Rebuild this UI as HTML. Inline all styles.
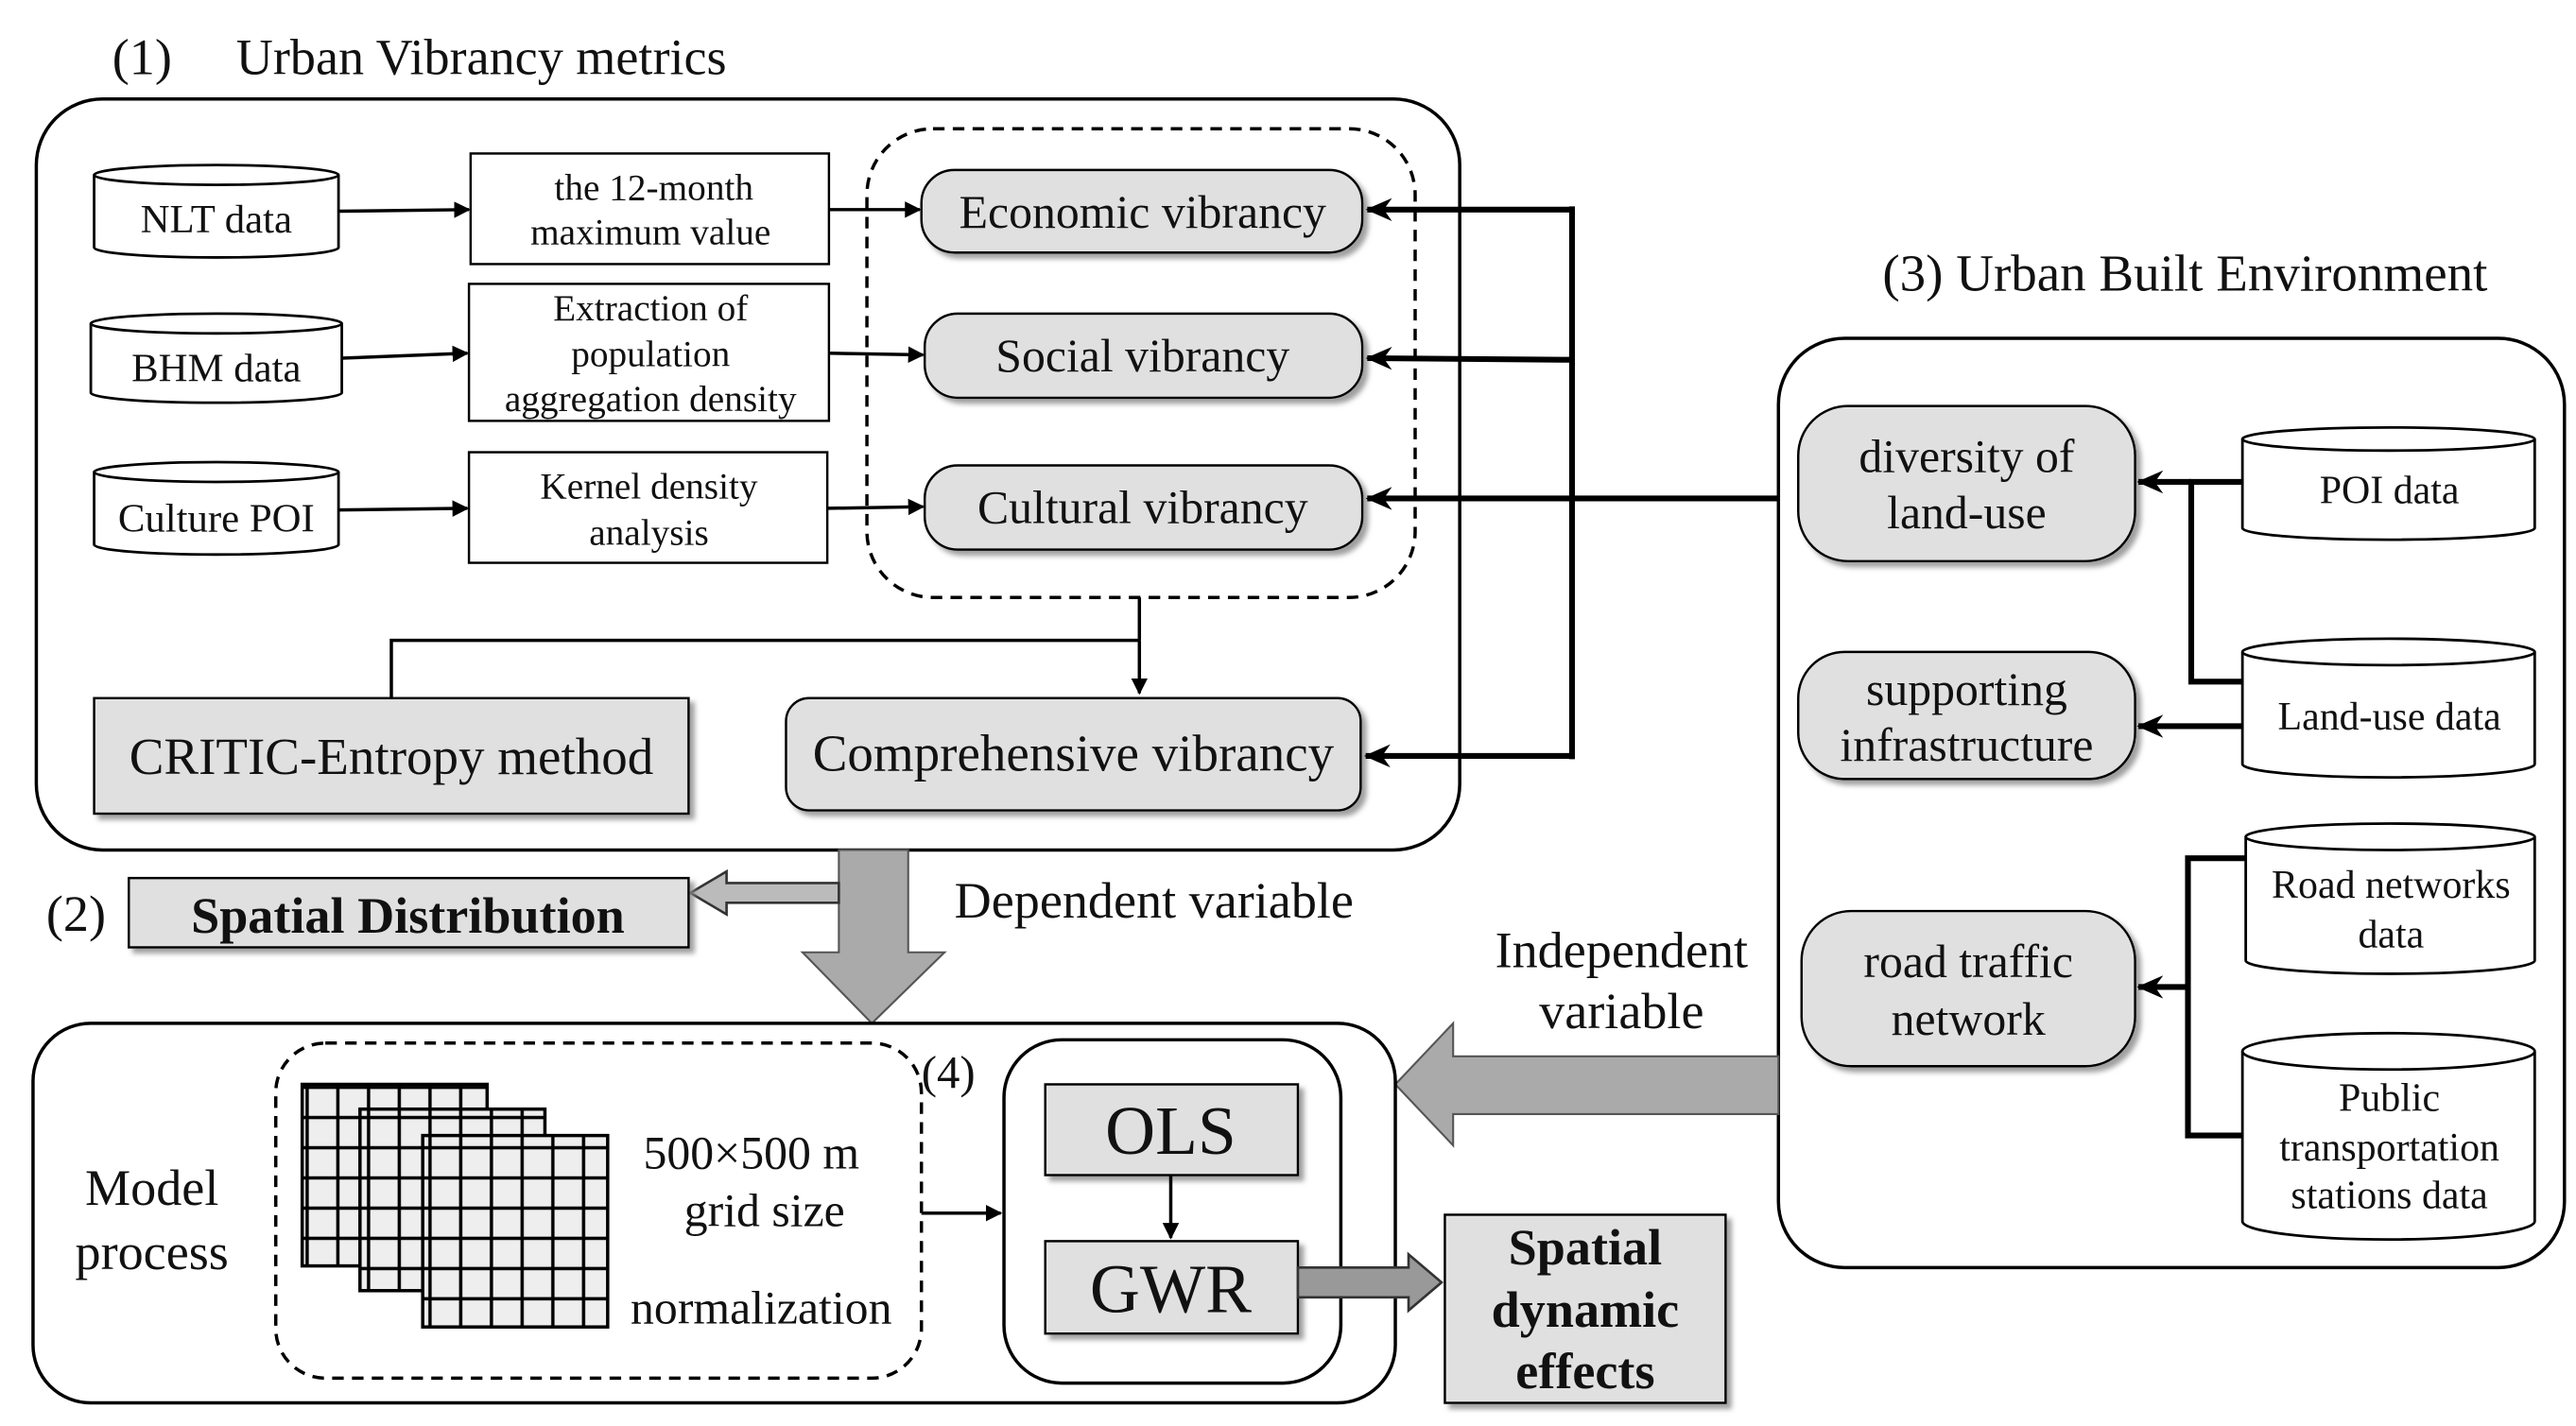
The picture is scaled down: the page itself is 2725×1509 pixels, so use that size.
<!DOCTYPE html>
<html><head><meta charset="utf-8"><style>
html,body{margin:0;padding:0;background:#fff;}
svg{display:block;}
text{font-family:"Liberation Serif",serif;fill:#111;}
</style></head><body>
<svg width="2725" height="1509" viewBox="0 0 1560 864" preserveAspectRatio="none" xmlns="http://www.w3.org/2000/svg">
<defs>
<marker id="ah" markerWidth="10" markerHeight="10" refX="9" refY="5" orient="auto" markerUnits="userSpaceOnUse"><path d="M0,0 L10,5 L0,10 z" fill="#000"/></marker>
<marker id="ahb" markerWidth="16" markerHeight="14" refX="15" refY="7" orient="auto" markerUnits="userSpaceOnUse"><path d="M0,0 L16,7 L0,14 L5,7 z" fill="#000"/></marker>
<filter id="sh" x="-10%" y="-10%" width="130%" height="140%"><feDropShadow dx="3" dy="3" stdDeviation="1.5" flood-color="#888" flood-opacity="0.8"/></filter>
<pattern id="grid" width="18.6" height="18.3" patternUnits="userSpaceOnUse"><rect width="18.6" height="18.3" fill="#eee" stroke="#000" stroke-width="2"/></pattern>
</defs>

<text x="68" y="45" font-size="31">(1)</text>
<text x="143" y="45" font-size="31">Urban Vibrancy metrics</text>
<rect x="22" y="60" width="862" height="455" rx="40" fill="none" stroke="#000" stroke-width="2"/>

<g fill="#fff" stroke="#000" stroke-width="1.6">
<path d="M57,106 L57,150 A74,6 0 0 0 205,150 L205,106"/><ellipse cx="131" cy="106" rx="74" ry="6"/>
<path d="M55,196 L55,238 A76,6 0 0 0 207,238 L207,196"/><ellipse cx="131" cy="196" rx="76" ry="6"/>
<path d="M57,286 L57,330 A74,6 0 0 0 205,330 L205,286"/><ellipse cx="131" cy="286" rx="74" ry="6"/>
</g>
<text x="131" y="141" font-size="24.5" text-anchor="middle">NLT data</text>
<text x="131" y="231" font-size="24.5" text-anchor="middle">BHM data</text>
<text x="131" y="322" font-size="24.5" text-anchor="middle">Culture POI</text>

<g fill="#fff" stroke="#000" stroke-width="1.4">
<rect x="285" y="93" width="217" height="67"/>
<rect x="284" y="172" width="218" height="83"/>
<rect x="284" y="274" width="217" height="67"/>
</g>
<g font-size="22.5" text-anchor="middle">
<text x="396" y="121">the 12-month</text><text x="394" y="148">maximum value</text>
<text x="394" y="194">Extraction of</text><text x="394" y="222">population</text><text x="394" y="249">aggregation density</text>
<text x="393" y="302">Kernel density</text><text x="393" y="330">analysis</text>
</g>
<g stroke="#000" stroke-width="2" fill="none" marker-end="url(#ah)">
<line x1="205" y1="128" x2="284" y2="127"/>
<line x1="207" y1="217" x2="283" y2="214"/>
<line x1="205" y1="309" x2="283" y2="308"/>
<line x1="502" y1="127" x2="557" y2="127"/>
<line x1="502" y1="214" x2="559" y2="215"/>
<line x1="501" y1="308" x2="559" y2="307"/>
</g>

<rect x="525" y="78" width="332" height="284" rx="40" fill="none" stroke="#000" stroke-width="2" stroke-dasharray="7,5"/>
<g fill="#e0e0e0" stroke="#000" stroke-width="1.4" filter="url(#sh)">
<rect x="558" y="103" width="267" height="50" rx="20"/>
<rect x="560" y="190" width="265" height="51" rx="20"/>
<rect x="560" y="282" width="265" height="51" rx="20"/>
<rect x="476" y="423" width="348" height="68" rx="14"/>
</g>
<rect x="57" y="423" width="360" height="70" fill="#e0e0e0" stroke="#000" stroke-width="1.4" filter="url(#sh)"/>
<g font-size="28.5" text-anchor="middle">
<text x="692" y="138">Economic vibrancy</text>
<text x="692" y="225">Social vibrancy</text>
<text x="692" y="317">Cultural vibrancy</text>
<text x="650" y="467" font-size="31.5">Comprehensive vibrancy</text>
<text x="237" y="469" font-size="31.5">CRITIC-Entropy method</text>
</g>
<g stroke="#000" stroke-width="2" fill="none">
<polyline points="237,423 237,388 690,388"/>
<line x1="690" y1="362" x2="690" y2="388"/>
<line x1="690" y1="388" x2="690" y2="420" marker-end="url(#ah)"/>
</g>
<g stroke="#000" stroke-width="3.5" fill="none">
<line x1="952" y1="125" x2="952" y2="460"/>
<line x1="952" y1="127" x2="828" y2="127" marker-end="url(#ahb)"/>
<line x1="952" y1="218" x2="828" y2="217" marker-end="url(#ahb)"/>
<line x1="1077" y1="302" x2="828" y2="302" marker-end="url(#ahb)"/>
<line x1="952" y1="458" x2="827" y2="458" marker-end="url(#ahb)"/>
</g>

<text x="1140" y="176" font-size="31.5">(3) Urban Built Environment</text>
<rect x="1077" y="205" width="476" height="563" rx="40" fill="none" stroke="#000" stroke-width="2"/>
<g fill="#e0e0e0" stroke="#000" stroke-width="1.4" filter="url(#sh)">
<rect x="1089" y="246" width="204" height="94" rx="30"/>
<rect x="1089" y="395" width="204" height="77" rx="28"/>
<rect x="1091" y="552" width="202" height="94" rx="30"/>
</g>
<g font-size="28.5" text-anchor="middle">
<text x="1191" y="286">diversity of</text><text x="1191" y="320">land-use</text>
<text x="1191" y="427">supporting</text><text x="1191" y="461">infrastructure</text>
<text x="1192" y="592">road traffic</text><text x="1192" y="627">network</text>
</g>
<g fill="#fff" stroke="#000" stroke-width="1.6">
<path d="M1358,266 L1358,320 A88.5,7 0 0 0 1535,320 L1535,266"/><ellipse cx="1446.5" cy="266" rx="88.5" ry="7"/>
<path d="M1358,395 L1358,463 A88.5,8 0 0 0 1535,463 L1535,395"/><ellipse cx="1446.5" cy="395" rx="88.5" ry="8"/>
<path d="M1360,507 L1360,582 A87.5,8 0 0 0 1535,582 L1535,507"/><ellipse cx="1447.5" cy="507" rx="87.5" ry="8"/>
<path d="M1358,637 L1358,740 A88.5,11 0 0 0 1535,740 L1535,637"/><ellipse cx="1446.5" cy="637" rx="88.5" ry="11"/>
</g>
<g font-size="24" text-anchor="middle">
<text x="1447" y="305">POI data</text>
<text x="1447" y="442">Land-use data</text>
<text x="1448" y="544">Road networks</text><text x="1448" y="574">data</text>
<text x="1447" y="673">Public</text><text x="1447" y="703">transportation</text><text x="1447" y="732">stations data</text>
</g>
<g stroke="#000" stroke-width="3.5" fill="none">
<polyline points="1358,292 1327,292 1327,413 1358,413"/>
<line x1="1327" y1="292" x2="1295" y2="292" marker-end="url(#ahb)"/>
<line x1="1358" y1="440" x2="1295" y2="440" marker-end="url(#ahb)"/>
<polyline points="1360,520 1325,520 1325,688 1358,688"/>
<line x1="1325" y1="598" x2="1295" y2="598" marker-end="url(#ahb)"/>
</g>

<polygon points="1077,640 880,640 880,620 845,657 880,694 880,675 1077,675" fill="#aaa" stroke="#555" stroke-width="1.2"/>
<text x="982" y="586" font-size="31" text-anchor="middle">Independent</text>
<text x="982" y="623" font-size="31" text-anchor="middle">variable</text>
<polygon points="508,515 550,515 550,577 572,577 528,620 486,577 508,577" fill="#aaa" stroke="#555" stroke-width="1.2"/>
<polygon points="508,535 440,535 440,528 418,541 440,554 440,547 508,547" fill="#bbb" stroke="#333" stroke-width="1.5"/>
<text x="578" y="556" font-size="31">Dependent variable</text>
<text x="28" y="564" font-size="31">(2)</text>
<rect x="78" y="532" width="339" height="42" fill="#e0e0e0" stroke="#000" stroke-width="1.4" filter="url(#sh)"/>
<text x="247" y="565" font-size="31" font-weight="bold" text-anchor="middle">Spatial Distribution</text>

<rect x="20" y="620" width="825" height="230" rx="35" fill="none" stroke="#000" stroke-width="2"/>
<text x="92" y="730" font-size="31" text-anchor="middle">Model</text>
<text x="92" y="769" font-size="31" text-anchor="middle">process</text>
<rect x="167" y="632" width="391" height="203" rx="30" fill="none" stroke="#000" stroke-width="2" stroke-dasharray="7,5"/>
<g stroke="#000" stroke-width="2">
<rect x="183" y="657" width="112" height="110" fill="url(#grid)"/>
<rect x="218" y="672" width="112" height="110" fill="url(#grid)"/>
<rect x="256" y="688" width="112" height="116" fill="url(#grid)"/>
</g>
<g font-size="28.5" text-anchor="middle">
<text x="455" y="708">500×500 m</text>
<text x="463" y="743">grid size</text>
<text x="461" y="802">normalization</text>
</g>
<text x="558" y="659" font-size="28">(4)</text>
<line x1="558" y1="735" x2="606" y2="735" stroke="#000" stroke-width="2" marker-end="url(#ah)"/>
<rect x="608" y="630" width="204" height="208" rx="35" fill="none" stroke="#000" stroke-width="2"/>
<g fill="#e0e0e0" stroke="#000" stroke-width="1.4" filter="url(#sh)">
<rect x="633" y="657" width="153" height="55"/>
<rect x="633" y="752" width="153" height="56"/>
</g>
<text x="709" y="699" font-size="42" text-anchor="middle">OLS</text>
<text x="709" y="795" font-size="42" text-anchor="middle">GWR</text>
<line x1="709" y1="712" x2="709" y2="750" stroke="#000" stroke-width="2" marker-end="url(#ah)"/>
<polygon points="786,768 853,768 853,760 873,777 853,794 853,786 786,786" fill="#999" stroke="#333" stroke-width="1.5"/>
<rect x="875" y="736" width="170" height="114" fill="#e0e0e0" stroke="#000" stroke-width="1.4" filter="url(#sh)"/>
<g font-size="31" font-weight="bold" text-anchor="middle">
<text x="960" y="766">Spatial</text><text x="960" y="804">dynamic</text><text x="960" y="841">effects</text>
</g>
</svg>
</body></html>
